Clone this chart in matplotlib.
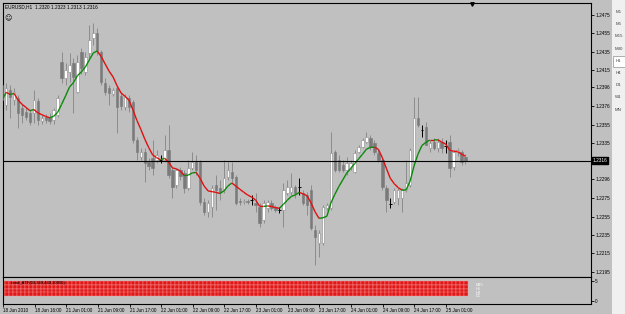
import numpy as np
import matplotlib
matplotlib.use("Agg")
import matplotlib.pyplot as plt
from matplotlib.collections import LineCollection
from matplotlib.patches import Rectangle

W, H = 625, 314

# EURUSD H1 bars, 18 Jun 2010 .. 25 Jun 2010
opens = [1.2399, 1.2377, 1.2393, 1.2382, 1.2384, 1.2374, 1.2369, 1.2368, 1.2368, 1.2381,
         1.2359, 1.2364, 1.2364, 1.2360, 1.2366, 1.2424, 1.2406, 1.2413, 1.2423, 1.2391,
         1.2435, 1.2413, 1.2434, 1.2450, 1.2455, 1.2435, 1.2401, 1.2395, 1.2389, 1.2395,
         1.2387, 1.2375, 1.2384, 1.2380, 1.2339, 1.2320, 1.2326, 1.2315, 1.2319, 1.2317,
         1.2317, 1.2317, 1.2328, 1.2306, 1.2290, 1.2306, 1.2303, 1.2286, 1.2308, 1.2315,
         1.2315, 1.2271, 1.2260, 1.2266, 1.2290, 1.2286, 1.2284, 1.2298, 1.2304, 1.2298,
         1.2272, 1.2271, 1.2272, 1.2273, 1.2270, 1.2266, 1.2251, 1.2265, 1.2270, 1.2266,
         1.2262, 1.2262, 1.2281, 1.2282, 1.2287, 1.2287, 1.2281, 1.2279, 1.2284, 1.2241,
         1.2226, 1.2226, 1.2265, 1.2265, 1.2326, 1.2317, 1.2311, 1.2306, 1.2308, 1.2304,
         1.2326, 1.2331, 1.2337, 1.2341, 1.2335, 1.2324, 1.2317, 1.2286, 1.2269, 1.2271,
         1.2275, 1.2275, 1.2284, 1.2290, 1.2315, 1.2363, 1.2350, 1.2353, 1.2330, 1.2337,
         1.2330, 1.2337, 1.2332, 1.2337, 1.2309, 1.2326, 1.2326, 1.2320]
highs = [1.2406, 1.2401, 1.2399, 1.2395, 1.2388, 1.2378, 1.2374, 1.2371, 1.2393, 1.2384,
         1.2366, 1.2367, 1.2368, 1.2374, 1.2388, 1.2435, 1.2423, 1.2434, 1.2428, 1.2431,
         1.2439, 1.2435, 1.2464, 1.2466, 1.2461, 1.2437, 1.2406, 1.2399, 1.2395, 1.2399,
         1.2391, 1.2389, 1.2388, 1.2382, 1.2342, 1.2330, 1.2330, 1.2319, 1.2339, 1.2328,
         1.2322, 1.2344, 1.2355, 1.2309, 1.2308, 1.2309, 1.2306, 1.2317, 1.2326, 1.2322,
         1.2317, 1.2275, 1.2273, 1.2290, 1.2300, 1.2295, 1.2317, 1.2315, 1.2315, 1.2300,
         1.2275, 1.2274, 1.2274, 1.2279, 1.2281, 1.2270, 1.2273, 1.2273, 1.2273, 1.2268,
         1.2266, 1.2292, 1.2295, 1.2303, 1.2290, 1.2297, 1.2284, 1.2282, 1.2290, 1.2246,
         1.2241, 1.2268, 1.2270, 1.2347, 1.2328, 1.2322, 1.2317, 1.2320, 1.2317, 1.2328,
         1.2333, 1.2341, 1.2347, 1.2344, 1.2339, 1.2328, 1.2320, 1.2290, 1.2275, 1.2286,
         1.2286, 1.2286, 1.2317, 1.2330, 1.2386, 1.2386, 1.2355, 1.2358, 1.2339, 1.2341,
         1.2341, 1.2341, 1.2339, 1.2344, 1.2328, 1.2330, 1.2328, 1.2323]
lows = [1.2364, 1.2371, 1.2363, 1.2377, 1.2352, 1.2357, 1.2360, 1.2355, 1.2357, 1.2355,
        1.2356, 1.2357, 1.2356, 1.2356, 1.2364, 1.2401, 1.2399, 1.2402, 1.2368, 1.2390,
        1.2411, 1.2410, 1.2428, 1.2442, 1.2431, 1.2399, 1.2388, 1.2377, 1.2387, 1.2346,
        1.2371, 1.2371, 1.2369, 1.2335, 1.2317, 1.2317, 1.2293, 1.2306, 1.2300, 1.2314,
        1.2314, 1.2315, 1.2297, 1.2275, 1.2286, 1.2295, 1.2281, 1.2284, 1.2306, 1.2300,
        1.2268, 1.2257, 1.2255, 1.2255, 1.2262, 1.2273, 1.2281, 1.2295, 1.2293, 1.2268,
        1.2268, 1.2269, 1.2269, 1.2268, 1.2260, 1.2244, 1.2248, 1.2260, 1.2262, 1.2260,
        1.2259, 1.2244, 1.2279, 1.2279, 1.2275, 1.2279, 1.2268, 1.2257, 1.2241, 1.2202,
        1.2211, 1.2224, 1.2262, 1.2262, 1.2304, 1.2304, 1.2304, 1.2300, 1.2306, 1.2303,
        1.2324, 1.2330, 1.2335, 1.2328, 1.2322, 1.2315, 1.2284, 1.2260, 1.2265, 1.2269,
        1.2268, 1.2260, 1.2282, 1.2287, 1.2311, 1.2353, 1.2342, 1.2333, 1.2326, 1.2328,
        1.2326, 1.2324, 1.2324, 1.2298, 1.2306, 1.2321, 1.2311, 1.2313]
closes = [1.2382, 1.2395, 1.2386, 1.2391, 1.2368, 1.2366, 1.2364, 1.2358, 1.2382, 1.2360,
          1.2363, 1.2360, 1.2359, 1.2371, 1.2384, 1.2406, 1.2415, 1.2421, 1.2407, 1.2424,
          1.2417, 1.2429, 1.2448, 1.2455, 1.2437, 1.2402, 1.2391, 1.2390, 1.2393, 1.2375,
          1.2376, 1.2386, 1.2375, 1.2339, 1.2326, 1.2326, 1.2314, 1.2310, 1.2308, 1.2322,
          1.2317, 1.2328, 1.2300, 1.2287, 1.2306, 1.2299, 1.2286, 1.2308, 1.2315, 1.2306,
          1.2271, 1.2260, 1.2270, 1.2286, 1.2284, 1.2282, 1.2297, 1.2306, 1.2297, 1.2270,
          1.2271, 1.2272, 1.2271, 1.2273, 1.2268, 1.2248, 1.2270, 1.2271, 1.2265, 1.2262,
          1.2262, 1.2284, 1.2287, 1.2287, 1.2281, 1.2287, 1.2270, 1.2268, 1.2243, 1.2233,
          1.2237, 1.2266, 1.2268, 1.2324, 1.2306, 1.2306, 1.2306, 1.2314, 1.2314, 1.2324,
          1.2331, 1.2339, 1.2342, 1.2331, 1.2326, 1.2317, 1.2287, 1.2273, 1.2269, 1.2284,
          1.2284, 1.2284, 1.2292, 1.2328, 1.2363, 1.2355, 1.2350, 1.2333, 1.2335, 1.2330,
          1.2337, 1.2330, 1.2332, 1.2308, 1.2326, 1.2328, 1.2315, 1.2316]

price_ticks = [1.2475, 1.2455, 1.2435, 1.2415, 1.2396, 1.2376, 1.2355, 1.2335,
               1.2296, 1.2275, 1.2255, 1.2235, 1.2215, 1.2195]
bid = 1.2316
time_labels = ["18 Jun 2010", "18 Jun 16:00", "21 Jun 01:00", "21 Jun 09:00",
               "21 Jun 17:00", "22 Jun 01:00", "22 Jun 09:00", "22 Jun 17:00",
               "23 Jun 01:00", "23 Jun 09:00", "23 Jun 17:00", "24 Jun 01:00",
               "24 Jun 09:00", "24 Jun 17:00", "25 Jun 01:00"]
trend_rows = ["M15", "H1", "H4", "D1"]
timeframes = ["M1", "M5", "M15", "M30", "H1", "H4", "D1", "W1", "MN"]
ma_period = 8

BG = "#c0c0c0"
plt.rcParams["font.family"] = ["Liberation Sans", "DejaVu Sans"]

opens = np.array(opens)
highs = np.array(highs)
lows = np.array(lows)
closes = np.array(closes)
n = len(closes)
x = np.arange(n)


def lwma(values, period):
    out = []
    for i in range(len(values)):
        win = values[max(0, i - period + 1): i + 1]
        w = np.arange(1, len(win) + 1)
        out.append(np.dot(win, w) / w.sum())
    return np.array(out)


def box(l, t, r, b):
    return [l / W, 1 - b / H, (r - l) / W, (b - t) / H]


fig = plt.figure(figsize=(W / 100, H / 100), dpi=100, facecolor=BG)
ax = fig.add_axes(box(3, 3, 591, 277), facecolor=BG)
ind = fig.add_axes(box(3, 277, 591, 304), facecolor=BG)

# candles
up = closes > opens
down = closes < opens
doji = closes == opens
ax.vlines(x[~doji], lows[~doji], highs[~doji], color="#8c8c8c", lw=0.7, zorder=2)
ax.vlines(x[doji], lows[doji], highs[doji], color="black", lw=0.7, zorder=2)
ax.hlines(closes[doji], x[doji] - 0.35, x[doji] + 0.35, color="black", lw=0.7, zorder=3)
ax.bar(x[up], closes[up] - opens[up], bottom=opens[up], width=0.62,
       color="white", edgecolor="#8c8c8c", linewidth=0.4, zorder=3)
ax.bar(x[down], closes[down] - opens[down], bottom=opens[down], width=0.62,
       color="#7a7a7a", edgecolor="#7a7a7a", linewidth=0.4, zorder=3)

# moving average, green when rising and red when falling
ma = lwma(closes, ma_period)
segs = [[(i - 1, ma[i - 1]), (i, ma[i])] for i in range(1, n)]
cols = ["#0a8a0a" if ma[i] > ma[i - 1] else "#e01010" for i in range(1, n)]
ax.add_collection(LineCollection(segs, colors=cols, linewidths=1.0, zorder=4))

ax.axhline(bid, color="black", lw=0.8, zorder=5)

ax.set_xlim(0.2, 148.7)
ax.set_ylim(1.21892, 1.24881)
ax.yaxis.tick_right()
ax.set_yticks(price_ticks)
ax.set_yticklabels([f"{t:.4f}" for t in price_ticks])
ax.set_xticks([])
ax.tick_params(axis="y", direction="out", length=2, width=0.6, pad=1, labelsize=3.4)
for s in ax.spines.values():
    s.set_color("black")
    s.set_linewidth(0.8)
ax.text(1.003, (bid - 1.21892) / (1.24881 - 1.21892), f"{bid:.4f}", transform=ax.transAxes,
        fontsize=3.4, color="white", ha="left", va="center",
        bbox=dict(boxstyle="square,pad=0.2", fc="black", ec="black"))

# trend indicator sub-window
row_y = [4.5, 3.55, 2.6, 1.65]
for ry in row_y:
    ind.plot(x, np.full(n, ry), ls="none", marker="s", ms=2.4,
             mfc="#e01818", mec="#f59a9a", mew=0.3)
for lab, ry in zip(trend_rows, row_y):
    ind.text(119.6, ry - 0.5, lab, fontsize=2.8, color="white", va="center", ha="left")
ind.text(2, 4.6, "trend_ATF(03,349,449,10000)", fontsize=3.0, color="black", va="center")
ind.set_xlim(0.2, 148.7)
ind.set_ylim(-0.75, 6.0)
ind.yaxis.tick_right()
ind.set_yticks([0, 5])
ind.set_yticklabels(["0", "5"])
ind.set_xticks(np.arange(0, 8 * len(time_labels), 8))
ind.set_xticklabels(time_labels)
for lab in ind.get_xticklabels():
    lab.set_ha("left")
ind.tick_params(axis="both", direction="out", length=2, width=0.6, pad=1, labelsize=3.3)
for s in ind.spines.values():
    s.set_color("black")
    s.set_linewidth(0.8)

# window decorations in pixel coordinates
ov = fig.add_axes([0, 0, 1, 1])
ov.set_xlim(0, W)
ov.set_ylim(H, 0)
ov.axis("off")
ov.patch.set_visible(False)
ov.add_patch(Rectangle((612, 0), 13, H, fc="#f0f0f0", ec="none"))
ov.add_patch(Rectangle((612.5, 55.5), 12, 11, fc="white", ec="#909090", lw=0.5))
for k, tf in enumerate(timeframes):
    ov.text(618.5, 12 + 12.2 * k, tf, fontsize=3.2, color="#404040", ha="center", va="center")
ov.text(5, 6.5, "EURUSD,H1  1.2320 1.2323 1.2313 1.2316", fontsize=3.4, color="black",
        ha="left", va="center")
ov.text(8, 18, "\u263a", fontsize=5, color="black", ha="center", va="center",
        family="DejaVu Sans")
ov.plot([472], [3.5], marker="v", ms=2.5, color="black")

fig.savefig("out.png", dpi=100, facecolor=BG)
